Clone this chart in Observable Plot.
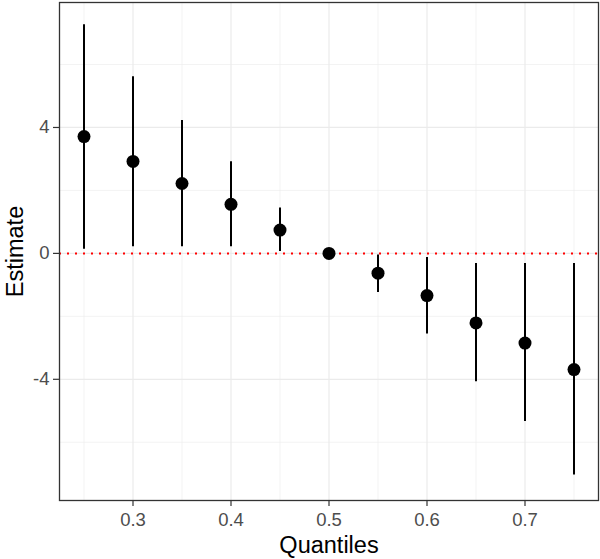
<!DOCTYPE html>
<html>
<head>
<meta charset="utf-8">
<script src="https://cdn.jsdelivr.net/npm/d3@7"></script>
<script src="https://cdn.jsdelivr.net/npm/@observablehq/plot@0.6"></script>
<style>
  html, body { margin: 0; padding: 0; background: #fff; }
</style>
</head>
<body>
<div id="chart"></div>
<script>
const quantiles = [0.25, 0.30, 0.35, 0.40, 0.45, 0.50, 0.55, 0.60, 0.65, 0.70, 0.75];
const estimates = [3.71, 2.92, 2.22, 1.56, 0.74, 0.00, -0.63, -1.34, -2.21, -2.85, -3.69];
const upper     = [7.26, 5.61, 4.22, 2.91, 1.44, 0.00, -0.05, -0.13, -0.32, -0.32, -0.32];
const lower     = [0.13, 0.21, 0.21, 0.21, 0.06, 0.00, -1.24, -2.56, -4.08, -5.34, -7.04];
const xMajor = [0.3, 0.4, 0.5, 0.6, 0.7];
const xMinor = [0.25, 0.35, 0.45, 0.55, 0.65, 0.75];
const yMajor = [-4, 0, 4];
const yMinor = [-6, -2, 2, 6];
const xTitle = "Quantiles";
const yTitle = "Estimate";

const data = quantiles.map((q, i) => ({q, est: estimates[i], lo: lower[i], hi: upper[i]}));

const font = "'Liberation Sans', Arial, sans-serif";
const chart = Plot.plot({
  width: 600,
  height: 559,
  marginLeft: 59,
  marginRight: 2,
  marginTop: 2,
  marginBottom: 59,
  style: {fontFamily: font, background: "#fff"},
  x: {domain: [0.225, 0.775]},
  y: {domain: [-7.85, 7.97]},
  marks: [
    Plot.ruleX(xMinor, {stroke: "#ebebeb", strokeWidth: 0.6}),
    Plot.ruleY(yMinor, {stroke: "#ebebeb", strokeWidth: 0.6}),
    Plot.ruleX(xMajor, {stroke: "#ebebeb", strokeWidth: 1.2}),
    Plot.ruleY(yMajor, {stroke: "#ebebeb", strokeWidth: 1.2}),
    Plot.ruleY([0], {stroke: "#ff0000", strokeWidth: 2, strokeDasharray: "2,6"}),
    Plot.ruleX(data, {x: "q", y1: "lo", y2: "hi", stroke: "#000", strokeWidth: 2}),
    Plot.dot(data, {x: "q", y: "est", r: 6.5, fill: "#000", stroke: "none"}),
    Plot.frame({stroke: "#333", strokeWidth: 1.3}),
    Plot.axisX(xMajor, {tickSize: 6, tickPadding: 6, fontSize: 18.5, fill: "#4d4d4d", stroke: "#333", strokeWidth: 1.2, label: null, tickFormat: d => d.toFixed(1)}),
    Plot.axisY(yMajor, {tickSize: 6, tickPadding: 4, fontSize: 18.5, fill: "#4d4d4d", stroke: "#333", strokeWidth: 1.2, label: null, tickFormat: d => String(d)}),
    Plot.text([xTitle], {frameAnchor: "bottom", dy: 45, text: d => d, fontSize: 23.5, fill: "#000", textAnchor: "middle", lineAnchor: "middle"}),
    Plot.text([yTitle], {frameAnchor: "left", dx: -44, text: d => d, fontSize: 23.5, fill: "#000", rotate: -90, textAnchor: "middle", lineAnchor: "middle"})
  ]
});
document.getElementById("chart").appendChild(chart);
</script>
</body>
</html>
